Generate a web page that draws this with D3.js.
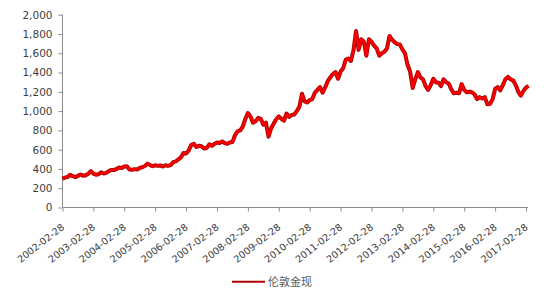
<!DOCTYPE html>
<html><head><meta charset="utf-8">
<script src="https://cdn.jsdelivr.net/npm/d3@7"></script>
<style>body{margin:0;background:#fff;}svg{display:block;}</style>
</head><body>
<svg id="c" width="550" height="300"></svg>
<script>
// monthly London gold spot, index 0 = 2002-02
const values2002 = [300, 310, 318, 340, 325, 315, 328, 342, 330, 335, 350];
const values2003 = [378, 352, 340, 345, 365, 352, 360, 378, 390, 388, 400, 415];
const values2004 = [410, 425, 428, 395, 392, 398, 394, 410, 418, 430, 455, 440];
const values2005 = [428, 438, 432, 436, 425, 438, 432, 440, 470, 478, 500, 520];
const values2006 = [565, 560, 590, 650, 660, 628, 640, 635, 612, 618, 655, 640];
const values2007 = [660, 675, 670, 685, 668, 660, 675, 680, 750, 790, 800, 840];
const values2008 = [920, 980, 945, 880, 895, 930, 920, 860, 880, 735, 820, 870];
const values2009 = [915, 945, 920, 900, 975, 940, 960, 965, 1000, 1045, 1180, 1100];
const values2010 = [1090, 1115, 1125, 1190, 1220, 1250, 1190, 1245, 1310, 1350, 1385, 1405];
const values2011 = [1335, 1410, 1445, 1535, 1545, 1520, 1630, 1830, 1635, 1745, 1720, 1575];
const values2012 = [1745, 1720, 1680, 1650, 1575, 1600, 1615, 1650, 1780, 1740, 1715, 1695];
const values2013 = [1690, 1640, 1600, 1480, 1410, 1240, 1330, 1405, 1350, 1330, 1260, 1220];
const values2014 = [1270, 1335, 1300, 1295, 1260, 1330, 1300, 1285, 1225, 1185, 1190, 1185];
const values2015 = [1280, 1220, 1195, 1200, 1195, 1175, 1125, 1145, 1130, 1145, 1070, 1075];
const values2016 = [1120, 1230, 1250, 1215, 1270, 1330, 1355, 1330, 1320, 1270, 1200, 1160];
const values2017 = [1210, 1245, 1262];
const seriesName = "伦敦金现";
const xTickLabels = ["2002-02-28","2003-02-28","2004-02-28","2005-02-28","2006-02-28","2007-02-28","2008-02-28","2009-02-28","2010-02-28","2011-02-28","2012-02-28","2013-02-28","2014-02-28","2015-02-28","2016-02-28","2017-02-28"];
const yTicks = [0,200,400,600,800,1000,1200,1400,1600,1800,2000];

const values = [].concat(values2002, values2003, values2004, values2005, values2006, values2007,
  values2008, values2009, values2010, values2011, values2012, values2013, values2014,
  values2015, values2016, values2017);

const svg = d3.select("#c");
const mLeft = 62.5, mRight = 528, mTop = 14.7, mBottom = 207.5;
const x = d3.scaleLinear().domain([0, 180]).range([mLeft, 526]);
const y = d3.scaleLinear().domain([0, 2000]).range([mBottom, mTop]);
const axisColor = "#8c8c8c";

// y axis
const ya = svg.append("g").attr("transform", `translate(${mLeft},0)`)
  .call(d3.axisLeft(y).tickValues(yTicks).tickSize(4).tickPadding(6).tickFormat(d3.format(",")));
ya.select(".domain").attr("stroke", axisColor).attr("d", `M0,${mTop}V${mBottom}`);
ya.selectAll(".tick line").attr("stroke", axisColor);
ya.selectAll(".tick text").attr("fill", "#404040").style("font-family", "DejaVu Sans").style("font-size", "10.5px");

// x axis
const tickIdx = xTickLabels.map((d, i) => i * 12);
const xa = svg.append("g").attr("transform", `translate(0,${mBottom})`)
  .call(d3.axisBottom(x).tickValues(tickIdx).tickSize(4).tickFormat((d, i) => xTickLabels[i]));
xa.select(".domain").attr("stroke", axisColor).attr("d", `M${mLeft},0H${mRight}`);
xa.selectAll(".tick line").attr("stroke", axisColor);
xa.selectAll(".tick text")
  .attr("fill", "#404040").style("font-family", "DejaVu Sans").style("font-size", "9.7px")
  .attr("text-anchor", "end").attr("dy", "0")
  .attr("transform", "translate(2,21) rotate(-38)").attr("y", 0).attr("x", 0);

// line
const line = d3.line().x((d, i) => x(i)).y(d => y(d));
svg.append("path").datum(values).attr("d", line).attr("fill", "none")
  .attr("stroke", "#a80000").attr("stroke-width", 4).attr("stroke-linejoin", "round");
svg.append("path").datum(values).attr("d", line).attr("fill", "none")
  .attr("stroke", "#ff0000").attr("stroke-width", 2.2).attr("stroke-linejoin", "round");

// legend
svg.append("line").attr("x1", 232).attr("x2", 265).attr("y1", 281.7).attr("y2", 281.7)
  .attr("stroke", "#b00000").attr("stroke-width", 2);
svg.append("text").attr("x", 268).attr("y", 286).text(seriesName)
  .attr("fill", "#595959").style("font-family", "Noto Sans CJK SC").style("font-size", "11px");
</script>
</body></html>
